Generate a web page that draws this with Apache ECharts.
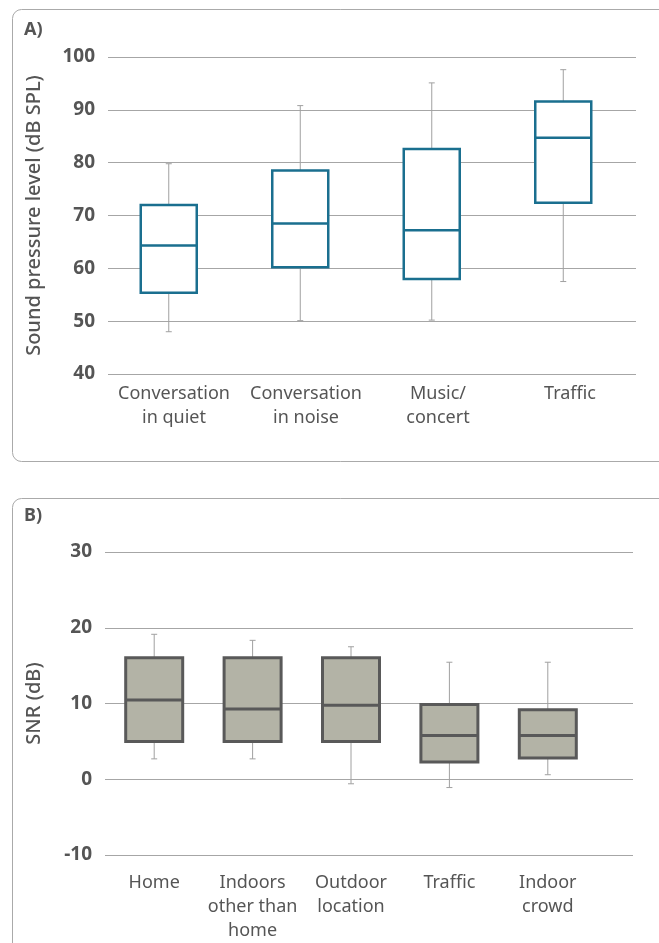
<!DOCTYPE html>
<html>
<head>
<meta charset="utf-8">
<script src="https://cdn.jsdelivr.net/npm/echarts@6/dist/echarts.min.js"></script>
<style>
  html, body { margin: 0; padding: 0; background: #fff; }
  #main { width: 659px; height: 943px; }
</style>
</head>
<body>
<div id="main"></div>
<script>
// panel A: sound pressure level by situation
var catsA = ['Conversation\nin quiet', 'Conversation\nin noise', 'Music/\nconcert', 'Traffic'];
var minA = [48, 50.1, 50.2, 57.5];
var q1A = [55.4, 60.2, 58.0, 72.4];
var medA = [64.3, 68.5, 67.2, 84.7];
var q3A = [72.0, 78.5, 82.6, 91.6];
var maxA = [79.8, 90.8, 95.1, 97.6];
var ticksA = [40, 100, 10];

// panel B: SNR by location
var catsB = ['Home', 'Indoors\nother than\nhome', 'Outdoor\nlocation', 'Traffic', 'Indoor\ncrowd'];
var minB = [2.6, 2.6, -0.7, -1.2, 0.5];
var q1B = [4.9, 4.9, 4.9, 2.2, 2.7];
var medB = [10.4, 9.2, 9.7, 5.7, 5.7];
var q3B = [16, 16, 16, 9.8, 9.1];
var maxB = [19.1, 18.3, 17.45, 15.4, 15.4];
var ticksB = [-10, 30, 10];

var font = 'Noto Sans';
var txt = '#555';
var gridCol = '#a6a6a6';

// box drawn from q1 to q3 only, whiskers drawn separately
function boxData(q1, med, q3) {
  return q1.map(function (v, i) { return [v, v, med[i], q3[i], q3[i]]; });
}
function whiskerData(lo, hi) {
  return lo.map(function (v, i) { return [i, v, hi[i]]; });
}

function renderWhisker(params, api) {
  var i = api.value(0);
  var lo = api.coord([i, api.value(1)]);
  var hi = api.coord([i, api.value(2)]);
  var s = { stroke: '#a0a0a0', lineWidth: 1 };
  return {
    type: 'group',
    children: [
      { type: 'line', shape: { x1: lo[0], y1: lo[1], x2: hi[0], y2: hi[1] }, style: s },
      { type: 'line', shape: { x1: lo[0] - 3, y1: lo[1], x2: lo[0] + 3, y2: lo[1] }, style: s },
      { type: 'line', shape: { x1: hi[0] - 3, y1: hi[1], x2: hi[0] + 3, y2: hi[1] }, style: s }
    ]
  };
}

function yAxisVisible(gi, t, name, gap) {
  return {
    type: 'value', gridIndex: gi, min: t[0], max: t[1], interval: t[2],
    name: name, nameLocation: 'middle', nameGap: gap,
    nameTextStyle: { fontFamily: font, fontSize: 20, fontWeight: 500, color: txt },
    axisLine: { show: false }, axisTick: { show: false },
    axisLabel: { fontFamily: font, fontSize: 19, fontWeight: 'bold', color: txt, margin: 13 },
    splitLine: { show: true, lineStyle: { color: gridCol, width: 1 } }
  };
}
function yAxisHidden(gi, t) {
  return {
    type: 'value', gridIndex: gi, min: t[0], max: t[1], interval: t[2],
    axisLine: { show: false }, axisTick: { show: false }, axisLabel: { show: false },
    splitLine: { show: false }
  };
}
function xAxis(gi, cats, labels, margin) {
  return {
    type: 'category', gridIndex: gi, data: cats,
    axisLine: { show: false }, axisTick: { show: false },
    axisLabel: { show: labels, interval: 0, fontFamily: font, fontSize: 18, color: txt,
      lineHeight: 24, margin: margin },
    splitLine: { show: false }
  };
}

var option = {
  animation: false,
  backgroundColor: '#fff',
  grid: [
    { left: 108, top: 57, width: 528, height: 317 },
    { left: 103, top: 57, width: 526, height: 317 },
    { left: 105, top: 552, width: 528, height: 303 },
    { left: 105, top: 552, width: 492, height: 303 }
  ],
  xAxis: [
    xAxis(0, catsA, true, 8),
    xAxis(1, catsA, false, 8),
    xAxis(2, catsB, false, 8),
    xAxis(3, catsB, true, 17)
  ],
  yAxis: [
    yAxisVisible(0, ticksA, 'Sound pressure level (dB SPL)', 64),
    yAxisHidden(1, ticksA),
    yAxisVisible(2, ticksB, 'SNR (dB)', 61),
    yAxisHidden(3, ticksB)
  ],
  graphic: [
    { type: 'rect', left: 10, top: 7, shape: { width: 680, height: 452, r: 9 },
      style: { fill: 'none', stroke: '#aaa', lineWidth: 1 }, z: -1 },
    { type: 'rect', left: 10, top: 496, shape: { width: 680, height: 480, r: 9 },
      style: { fill: 'none', stroke: '#aaa', lineWidth: 1 }, z: -1 },
    { type: 'text', left: 24, top: 21, style: { text: 'A)', font: 'bold 18px "Noto Sans"', fill: txt } },
    { type: 'text', left: 24, top: 507, style: { text: 'B)', font: 'bold 18px "Noto Sans"', fill: txt } }
  ],
  series: [
    { type: 'custom', xAxisIndex: 1, yAxisIndex: 1, data: whiskerData(minA, maxA),
      encode: { x: 0, y: [1, 2] }, renderItem: renderWhisker, z: 2 },
    { type: 'boxplot', xAxisIndex: 1, yAxisIndex: 1, data: boxData(q1A, medA, q3A),
      boxWidth: [56, 56], z: 3,
      itemStyle: { color: '#fff', borderColor: '#1a6f8f', borderWidth: 2.5 } },
    { type: 'custom', xAxisIndex: 3, yAxisIndex: 3, data: whiskerData(minB, maxB),
      encode: { x: 0, y: [1, 2] }, renderItem: renderWhisker, z: 2 },
    { type: 'boxplot', xAxisIndex: 3, yAxisIndex: 3, data: boxData(q1B, medB, q3B),
      boxWidth: [57, 57], z: 3,
      itemStyle: { color: '#b3b3a6', borderColor: '#595959', borderWidth: 3 } }
  ]
};

var chart = echarts.init(document.getElementById('main'), null, { renderer: 'canvas' });
chart.setOption(option);
</script>
</body>
</html>
